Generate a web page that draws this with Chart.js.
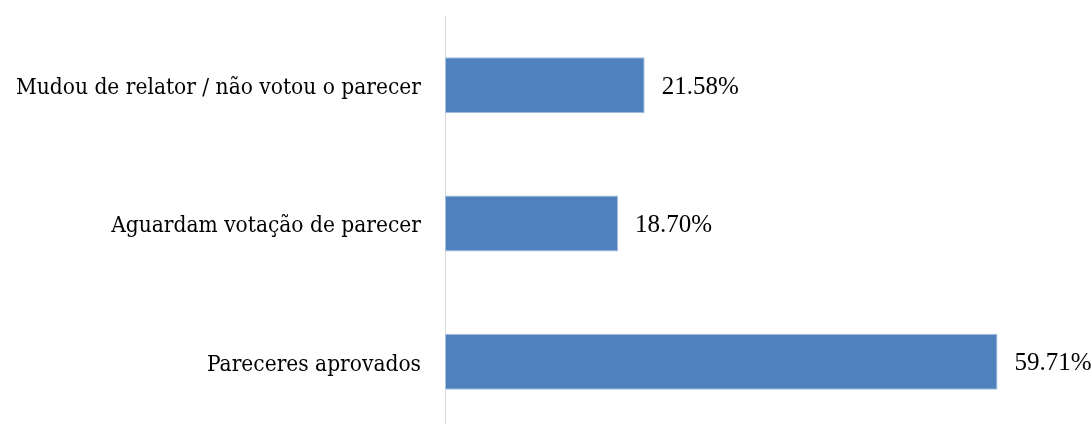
<!DOCTYPE html>
<html>
<head>
<meta charset="utf-8">
<script src="https://cdn.jsdelivr.net/npm/chart.js@4"></script>
<style>
  html, body { margin: 0; padding: 0; background: #fff; overflow: hidden; }
  #wrap { width: 1092px; height: 431px; }
</style>
</head>
<body>
<div id="wrap"><canvas id="c" width="1092" height="431"></canvas></div>
<script>
// Categories, top to bottom
const categories = [
  'Mudou de relator / não votou o parecer',
  'Aguardam votação de parecer',
  'Pareceres aprovados'
];
// Share of each status, in percent
const shares = [21.58, 18.70, 59.71];

const categoryFont = { family: '"DejaVu Serif Condensed", "DejaVu Serif", serif', size: 22.5 };
const valueFont = { family: '"Liberation Serif", "Times New Roman", serif', size: 25 };

// Writes the percentage just past the end of each bar
const valueLabels = {
  id: 'valueLabels',
  afterDatasetsDraw(chart) {
    const ctx = chart.ctx;
    const meta = chart.getDatasetMeta(0);
    ctx.save();
    ctx.font = `${valueFont.size}px ${valueFont.family}`;
    ctx.fillStyle = '#000';
    ctx.textAlign = 'left';
    ctx.textBaseline = 'middle';
    meta.data.forEach((bar, i) => {
      ctx.fillText(shares[i].toFixed(2) + '%', bar.x + 17, bar.y + 2);
    });
    ctx.restore();
  }
};

new Chart(document.getElementById('c'), {
  type: 'bar',
  data: {
    labels: categories,
    datasets: [{
      data: shares,
      backgroundColor: '#4F81BD',
      borderColor: '#A7C0DE',
      borderWidth: 1,
      borderSkipped: false,
      categoryPercentage: 1,
      barPercentage: 0.405
    }]
  },
  options: {
    indexAxis: 'y',
    responsive: false,
    animation: false,
    layout: { padding: { top: 16, right: 0, bottom: 0, left: 0 } },
    plugins: { legend: { display: false }, tooltip: { enabled: false } },
    scales: {
      x: { display: false, min: 0, max: 69.92 },
      y: {
        grid: { display: false, drawTicks: false },
        border: { display: true, color: '#D9D9D9', width: 1 },
        ticks: { color: '#000', font: categoryFont, padding: 24, labelOffset: 3 },
        afterFit(scale) {
          scale.width = 445;
          scale.paddingTop = 0;
          scale.paddingBottom = 0;
        }
      }
    }
  },
  plugins: [valueLabels]
});
</script>
</body>
</html>
